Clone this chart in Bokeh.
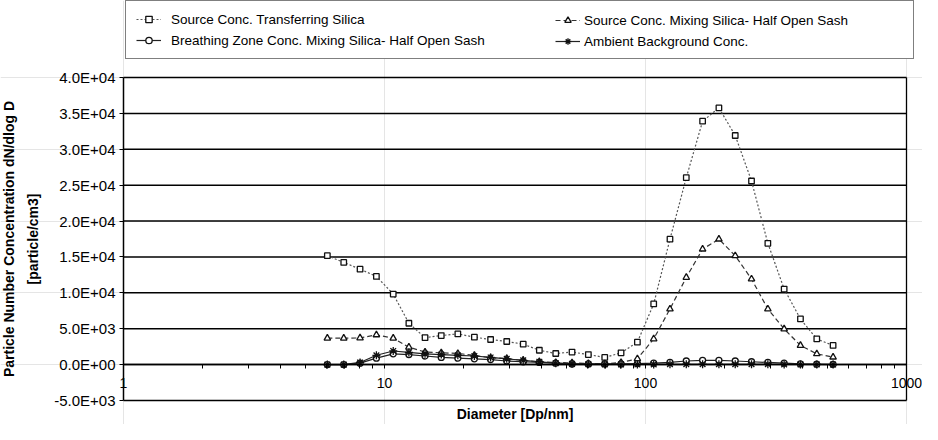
import math
from bokeh.plotting import figure
from bokeh.models import (LinearAxis, LogAxis, FixedTicker, CustomJSTickFormatter,
                          Legend, LegendItem, Label, Range1d)
from bokeh.embed import file_html
from bokeh.resources import INLINE

# ---- data ----
diam = [6.04, 6.98, 8.06, 9.31, 10.8, 12.4, 14.3, 16.5, 19.1, 22.1, 25.5, 29.4,
        34.0, 39.2, 45.3, 52.3, 60.4, 69.8, 80.6, 93.1, 107.5, 124.1, 143.3,
        165.5, 191.1, 220.7, 254.8, 294.3, 339.8, 392.4, 453.2, 523.3]
transferring = [15170, 14240, 13300, 12290, 9830, 5760, 3750, 4050, 4280, 3820,
                3500, 3220, 2850, 2000, 1550, 1750, 1400, 1000, 1640, 3130,
                8450, 17480, 26040, 33910, 35760, 31920, 25580, 16900, 10530,
                6360, 3580, 2670]
mixing = [3680, 3680, 3720, 4140, 3680, 2430, 1750, 1650, 1550, 1280, 950, 850,
          580, 400, 300, 250, 150, 100, 300, 810, 3580, 7750, 12150, 16090,
          17480, 15170, 11920, 7750, 4970, 2670, 1500, 1040]
breathing = [0, 0, 200, 900, 1500, 1400, 1200, 1000, 900, 800, 700, 500, 400,
             300, 200, 100, 100, 100, 100, 150, 200, 300, 500, 600, 600, 500,
             400, 300, 200, 100, 50, 30]
ambient = [0, 0, 300, 1300, 1900, 1700, 1500, 1400, 1300, 1200, 1000, 800, 600,
           400, 200, 100, 50, 30, 20, 20, 30, 50, 50, 50, 50, 50, 50, 50, 30,
           20, 20, 10]
names = ["Source Conc. Transferring Silica",
         "Source Conc. Mixing Silica- Half Open Sash",
         "Breathing Zone Conc. Mixing Silica- Half Open Sash",
         "Ambient Background Conc."]
x_title = "Diameter [Dp/nm]"
y_title = ["Particle Number Concentration dN/dlog D", "[particle/cm3]"]
x_ticks = [1, 10, 100, 1000]
x_minor = [m * d for d in (1, 10, 100) for m in range(2, 10)]
y_min, y_max, y_step = -5000, 40000, 5000
y_ticks = list(range(y_min, y_max + 1, y_step))

# ---- layout (figure pixels) ----
FONT = "Liberation Sans"
W, H = 922, 424
X_LO_PX, X_HI_PX = 123, 906      # where x=1 and x=1000 sit
Y_TOP_PX, Y_BOT_PX = 77, 400     # where y=40000 and y=-5000 sit

lx0, lx1 = math.log10(x_ticks[0]), math.log10(x_ticks[-1])
ppd = (X_HI_PX - X_LO_PX) / (lx1 - lx0)
x_start = 10 ** (lx0 - X_LO_PX / ppd)
x_end = 10 ** (lx1 + (W - X_HI_PX) / ppd)
ppu = (Y_BOT_PX - Y_TOP_PX) / (y_max - y_min)
y_end = y_max + Y_TOP_PX / ppu
y_start = y_min - (H - Y_BOT_PX) / ppu

p = figure(width=W, height=H, x_axis_type="log",
           x_range=Range1d(x_start, x_end), y_range=Range1d(y_start, y_end),
           x_axis_location=None, y_axis_location=None, min_border=0,
           output_backend="svg", toolbar_location=None,
           background_fill_color="white", border_fill_color="white")
p.outline_line_color = None

# horizontal grid lines (plot area only) and right border
n = len(y_ticks)
p.segment(x0=[x_ticks[0]] * n, x1=[x_ticks[-1]] * n, y0=y_ticks, y1=y_ticks,
          line_color="black", line_width=1.5)
p.segment(x0=[x_ticks[-1]], x1=[x_ticks[-1]], y0=[y_min], y1=[y_max],
          line_color="black", line_width=1.3)

# y axis at x = 1
yax = LinearAxis(fixed_location=x_ticks[0], bounds=(y_min, y_max),
                 ticker=FixedTicker(ticks=y_ticks),
                 formatter=CustomJSTickFormatter(code=r"""
var s = tick.toExponential(1).toUpperCase();
return s.replace(/E([+-])(\d)$/, function(m, a, b) { return 'E' + a + '0' + b; });
"""))
yax.axis_line_color = "black"
yax.axis_line_width = 1.5
yax.major_tick_out = 4
yax.major_tick_in = 0
yax.minor_tick_line_color = None
yax.major_label_standoff = 4
yax.major_label_text_font = FONT
yax.major_label_text_font_size = "15px"
yax.major_label_text_color = "black"
p.add_layout(yax, "left")

# x axis crossing at y = 0 (Excel style)
xax = LogAxis(fixed_location=0, bounds=(x_ticks[0], x_ticks[-1]),
              ticker=FixedTicker(ticks=x_ticks, minor_ticks=x_minor),
              formatter=CustomJSTickFormatter(code="return String(tick);"))
xax.axis_line_color = "black"
xax.axis_line_width = 1.5
xax.major_tick_out = 4
xax.major_tick_in = 0
xax.minor_tick_out = 4
xax.minor_tick_in = 0
xax.major_label_standoff = 9
xax.major_label_text_font = FONT
xax.major_label_text_font_size = "14px"
xax.major_label_text_color = "black"
p.add_layout(xax, "below")

# axis titles
y_mid = (y_min + y_max) / 2
for txt, sx in zip(y_title, (8, 32)):
    p.add_layout(Label(x=sx, y=y_mid, x_units="screen", y_units="data",
                       text=txt, angle=math.pi / 2, text_align="center",
                       text_baseline="middle", text_font=FONT,
                       text_font_style="bold", text_font_size="14px",
                       text_color="black"))
p.add_layout(Label(x=math.sqrt(x_ticks[0] * x_ticks[-1]), y=11,
                   x_units="data", y_units="screen", text=x_title,
                   text_align="center", text_baseline="middle",
                   text_font=FONT, text_font_style="bold",
                   text_font_size="14px", text_color="black"))

# series
styles = [
    dict(data=transferring, marker="square", size=5.5, dash="2 2", color="#555555"),
    dict(data=mixing, marker="triangle", size=6.5, dash="5 3", color="#333333"),
    dict(data=breathing, marker="circle", size=6, dash="solid", color="#222222"),
    dict(data=ambient, marker="asterisk", size=8, dash="solid", color="#222222"),
]
items = []
for name, st in zip(names, styles):
    ln = p.line(diam, st["data"], line_color=st["color"], line_width=1.2,
                line_dash=st["dash"])
    sc = p.scatter(diam, st["data"], marker=st["marker"], size=st["size"],
                   line_color="#111111", fill_color="white", line_width=1.3)
    items.append(LegendItem(label=name, renderers=[ln, sc]))

# legend: a boxed first column and an unboxed second column on top of it
LEG_TOP, PAD, ROW_H, GAP = 2, 10, 16, 5
LEG_H = 2 * PAD + 2 * ROW_H + GAP
VY = H - LEG_TOP - LEG_H
common = dict(orientation="vertical", margin=0, padding=PAD, spacing=GAP,
              glyph_width=25, glyph_height=ROW_H, label_height=ROW_H,
              label_text_font=FONT, label_text_font_size="13.5px",
              label_text_color="black")
legA = Legend(items=[items[0], items[2]], location=(125, VY), label_width=732,
              label_standoff=10, border_line_color="black",
              border_line_width=1.2, background_fill_color="white",
              background_fill_alpha=1.0, **common)
legB = Legend(items=[items[1], items[3]], location=(555, VY + 10), label_width=20,
              label_standoff=4, border_line_color=None,
              background_fill_alpha=0.0, **common)
p.add_layout(legA, "center")
p.add_layout(legB, "center")

open("out.html", "w").write(file_html(p, INLINE))
